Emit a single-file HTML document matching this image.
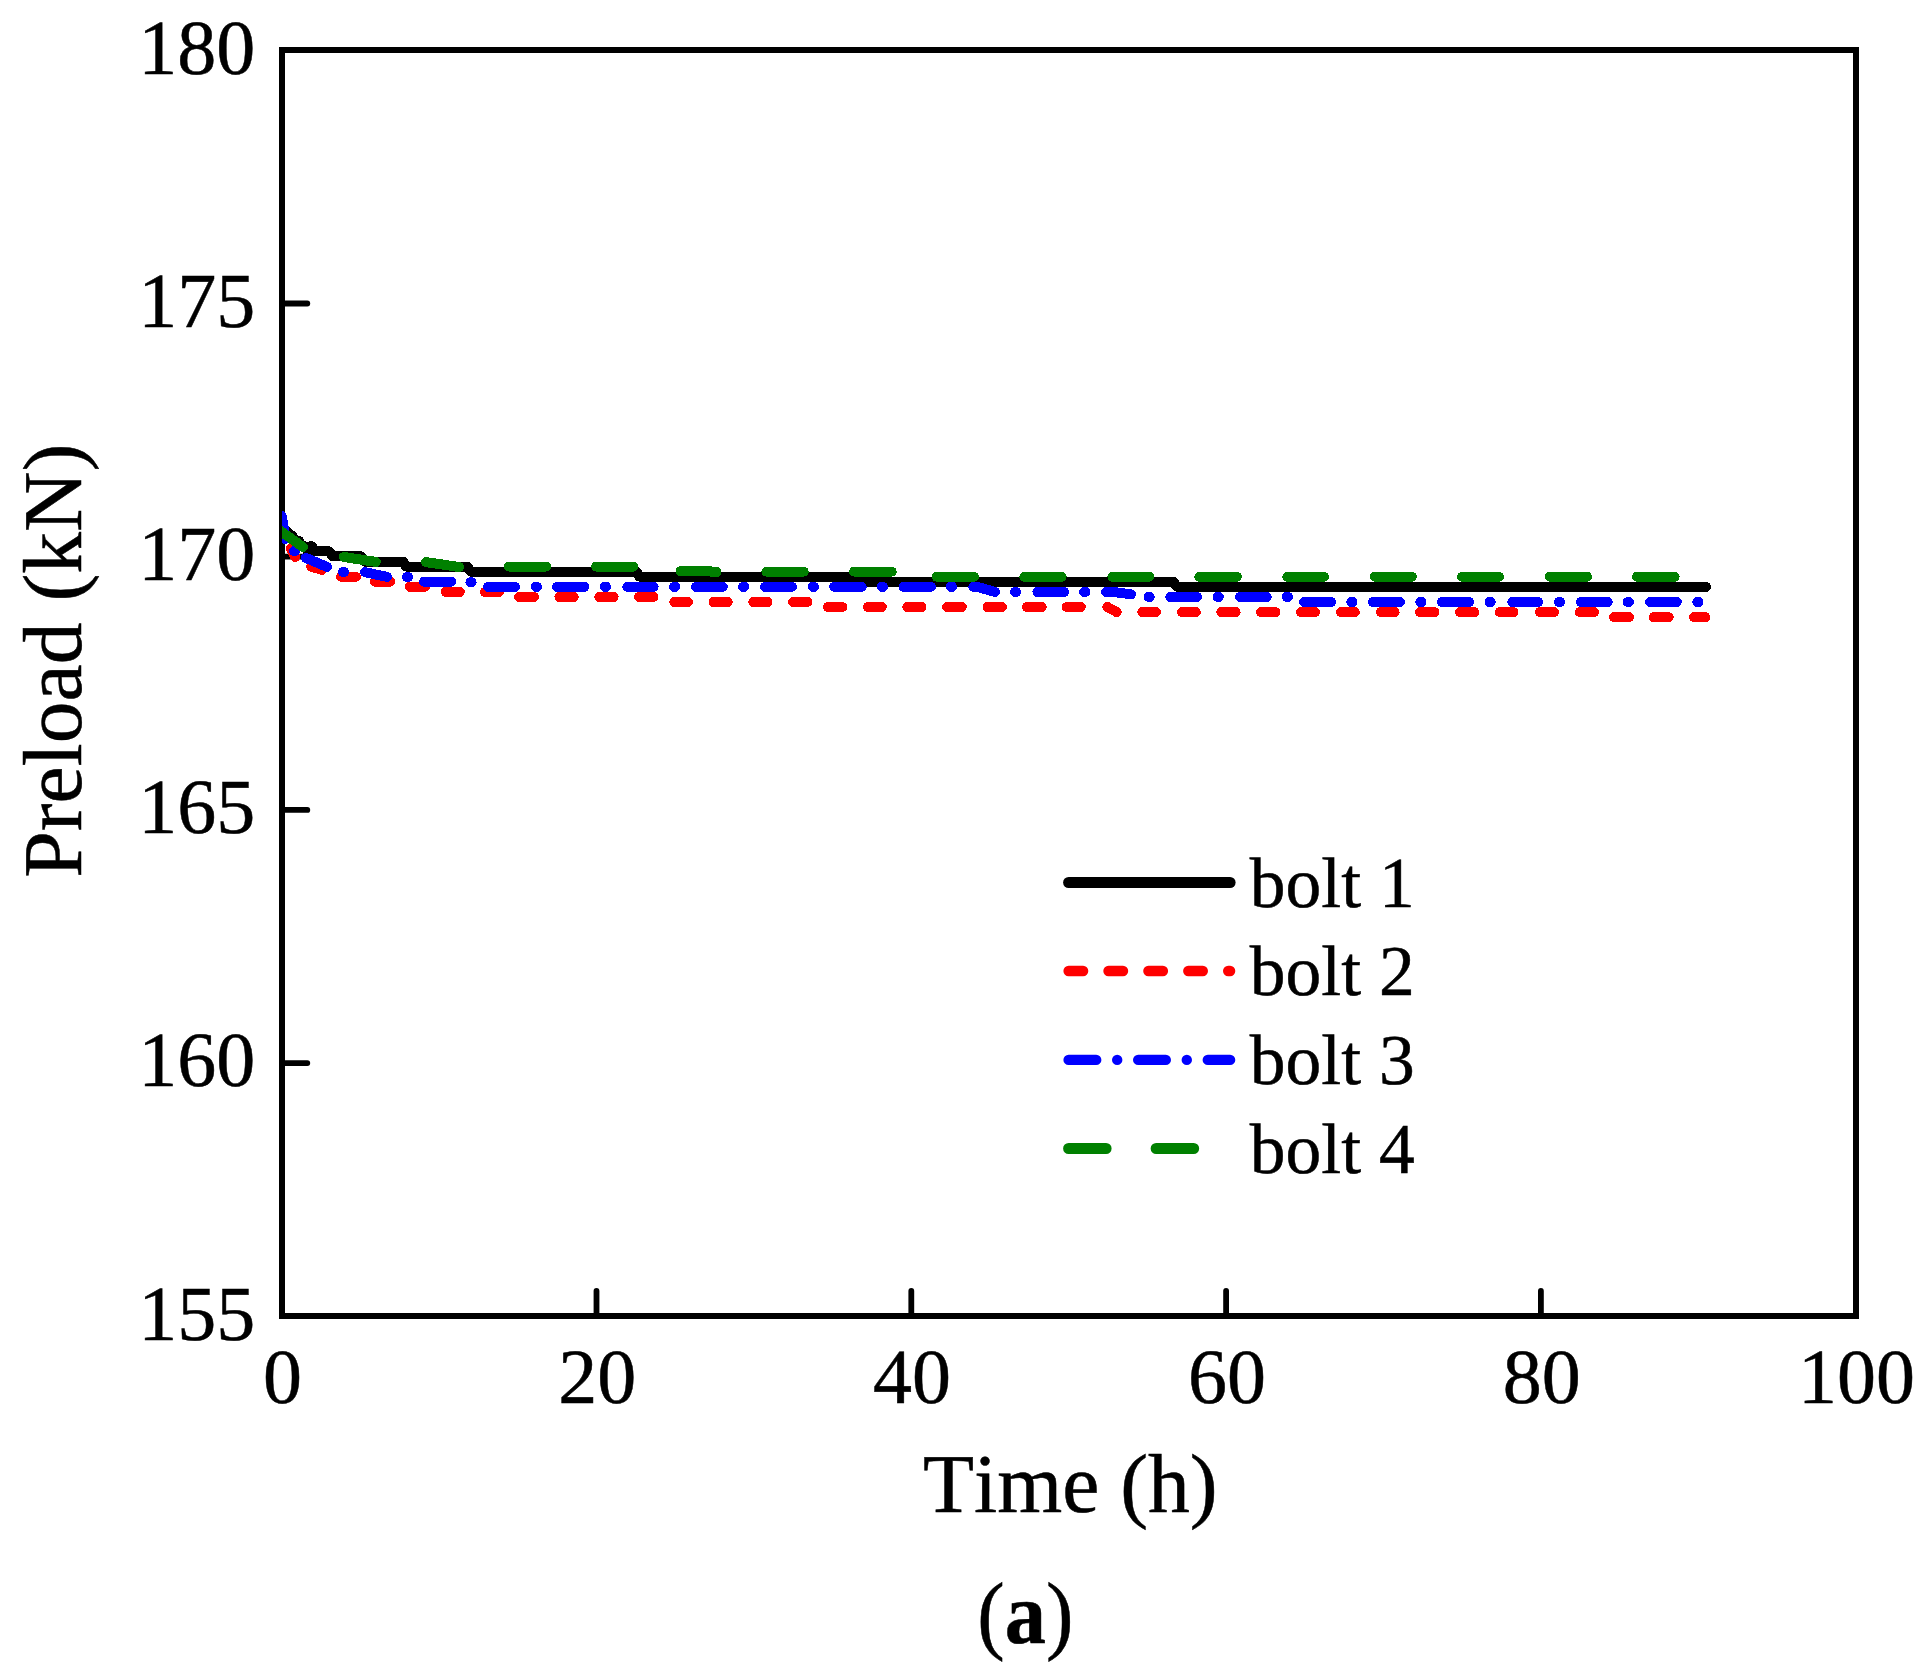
<!DOCTYPE html>
<html><head><meta charset="utf-8"><title>Preload vs Time (a)</title>
<style>
html,body{margin:0;padding:0;background:#fff;}
body{width:1928px;height:1677px;overflow:hidden;}
svg{display:block;}
text{font-family:"Liberation Serif","Times New Roman",Times,serif;fill:#000;stroke:#000;stroke-width:0.5px;font-kerning:none;text-rendering:geometricPrecision;}
.tk{font-size:78px;}
.ax{font-size:83.6px;}
.lg{font-size:71.5px;}
.cap{font-size:87.5px;}
</style></head><body>
<svg width="1928" height="1677" viewBox="0 0 1928 1677">
<rect x="0" y="0" width="1928" height="1677" fill="#fff"/>
<defs><clipPath id="plot"><rect x="282" y="0" width="1600" height="1400"/></clipPath></defs>

<g stroke="#000" stroke-width="6" fill="none" shape-rendering="crispEdges">
<rect x="282" y="50" width="1574" height="1266"/>
</g>
<g stroke="#000" stroke-width="5.8" stroke-linecap="round" fill="none">
<line x1="596.5" y1="1316" x2="596.5" y2="1291"/>
<line x1="911.3" y1="1316" x2="911.3" y2="1291"/>
<line x1="1226.1" y1="1316" x2="1226.1" y2="1291"/>
<line x1="1540.9" y1="1316" x2="1540.9" y2="1291"/>
<line x1="282" y1="1063.1" x2="307.3" y2="1063.1"/>
<line x1="282" y1="809.9" x2="307.3" y2="809.9"/>
<line x1="282" y1="556.7" x2="307.3" y2="556.7"/>
<line x1="282" y1="303.5" x2="307.3" y2="303.5"/>
</g>
<text class="tk" x="255.3" y="1339.5" text-anchor="end">155</text>
<text class="tk" x="255.3" y="1086.3" text-anchor="end">160</text>
<text class="tk" x="255.3" y="833.1" text-anchor="end">165</text>
<text class="tk" x="255.3" y="579.9" text-anchor="end">170</text>
<text class="tk" x="255.3" y="326.7" text-anchor="end">175</text>
<text class="tk" x="255.3" y="73.5" text-anchor="end">180</text>
<text class="tk" x="282.5" y="1403.3" text-anchor="middle">0</text>
<text class="tk" x="597.3" y="1403.3" text-anchor="middle">20</text>
<text class="tk" x="912.1" y="1403.3" text-anchor="middle">40</text>
<text class="tk" x="1226.9" y="1403.3" text-anchor="middle">60</text>
<text class="tk" x="1541.7" y="1403.3" text-anchor="middle">80</text>
<text class="tk" x="1856.5" y="1403.3" text-anchor="middle">100</text>
<text class="ax" x="1070.3" y="1512" text-anchor="middle">Time (h)</text>
<text class="ax" transform="translate(80.9,660.8) rotate(-90)" text-anchor="middle">Preload (kN)</text>
<text class="cap" transform="translate(1025.3,1642.7) scale(0.942,1)" text-anchor="middle">(<tspan font-weight="bold">a</tspan>)</text>
<g clip-path="url(#plot)" fill="none" stroke-width="10" stroke-linecap="round" stroke-linejoin="round" shape-rendering="crispEdges">
<path d="M281.0 524.5L285.5 530.5L288.5 533.5L292.5 536.0L294.5 539.5L299.0 541.0L301.0 546.3L305.0 546.3L307.5 551.3L310.0 546.3L312.0 546.3L314.8 551.3L329.3 551.3L332.3 556.4L361.5 556.4L364.5 561.5L403.2 561.5L406.0 566.5L467.6 566.5L470.8 571.6L636.5 571.6L639.5 576.7L865.0 576.7L868.0 581.7L1173.5 581.7L1177.0 586.8L1706.0 586.8" stroke="#000"/>
<path d="M290.7 548.7L295.2 557.0M311.1 566.5L322.0 570.0M341.0 576.7L355.9 576.7M374.9 581.7L390.1 581.7M409.9 586.8L424.9 586.8M445.8 591.9L459.8 591.9M484.9 591.9L499.0 591.9M519.2 596.9L533.9 596.9M559.4 596.9L573.7 596.9M599.3 596.9L613.6 596.9M639.1 596.9L653.5 596.9M674.3 602.0L687.9 602.0M713.5 602.0L727.7 602.0M753.3 602.0L767.6 602.0M793.1 602.0L807.4 602.0M828.0 607.0L842.3 607.0M867.9 607.0L881.8 607.0M907.3 607.0L921.6 607.0M947.2 607.0L961.8 607.0M987.6 607.0L1001.9 607.0M1026.8 607.0L1041.7 607.0M1066.7 607.0L1080.8 607.0M1107.4 607.0L1116.7 612.1M1142.3 612.1L1155.9 612.1M1182.1 612.1L1195.8 612.1M1221.3 612.1L1235.6 612.1M1261.1 612.1L1275.4 612.1M1301.0 612.1L1315.0 612.1M1341.1 612.1L1354.8 612.1M1380.9 612.1L1394.6 612.1M1420.1 612.1L1434.4 612.1M1460.0 612.1L1474.3 612.1M1499.8 612.1L1513.5 612.1M1539.9 612.1L1554.0 612.1M1579.8 612.1L1594.0 612.1M1614.0 617.2L1628.9 617.2M1653.8 617.2L1668.7 617.2M1693.9 617.2L1705.2 617.2" stroke="#f00"/>
<path d="M281.8 516.0L283.6 527.0L285.0 539.0M293.9 551.2L295.1 551.2M305.8 557.9L327.0 566.9M342.9 571.9L344.1 571.9M365.0 572.2L387.0 576.9M407.0 577.0L408.2 577.0M424.0 581.7L451.1 581.7M470.4 582.3L471.6 582.3M488.0 586.8L515.0 586.8M535.8 586.8L537.0 586.8M557.0 586.8L584.3 586.8M604.9 586.8L606.1 586.8M627.3 586.8L653.6 586.8M674.0 586.8L675.2 586.8M696.0 586.8L722.8 586.8M743.0 586.8L744.2 586.8M765.1 586.8L791.9 586.8M812.8 586.8L814.0 586.8M834.2 586.8L861.7 586.8M881.8 586.8L883.0 586.8M903.6 586.8L930.9 586.8M950.9 586.8L952.1 586.8M973.3 586.8L977.0 586.8L995.0 591.9M1015.0 591.9L1016.2 591.9M1037.4 591.9L1064.1 591.9M1084.2 591.9L1085.4 591.9M1106.2 591.9L1113.0 591.9L1131.0 594.3M1148.5 596.9L1149.7 596.9M1170.3 596.9L1197.0 596.9M1217.6 596.9L1218.8 596.9M1240.0 596.9L1266.7 596.9M1286.7 596.9L1287.9 596.9M1304.1 602.0L1331.1 602.0M1351.4 602.0L1352.6 602.0M1372.8 602.0L1399.9 602.0M1420.4 602.0L1421.6 602.0M1441.9 602.0L1469.0 602.0M1489.5 602.0L1490.7 602.0M1512.3 602.0L1538.0 602.0M1559.0 602.0L1560.2 602.0M1581.0 602.0L1607.7 602.0M1627.7 602.0L1628.9 602.0M1650.1 602.0L1676.8 602.0M1697.4 602.0L1698.6 602.0" stroke="#00f"/>
<path d="M276.0 527.8L303.0 547.0M343.8 557.0L375.8 561.9M425.9 562.1L459.1 567.0M509.0 566.5L546.3 566.5M596.2 566.5L633.5 566.5M680.5 571.2L710.0 571.2L712.0 572.0L716.5 572.0M766.4 571.6L803.7 571.6M854.1 571.6L891.7 571.6M936.6 576.7L973.9 576.7M1024.3 576.7L1061.6 576.7M1112.4 576.7L1149.1 576.7M1199.3 576.7L1236.8 576.7M1287.3 576.7L1323.9 576.7M1374.7 576.7L1411.8 576.7M1462.1 576.7L1498.9 576.7M1549.9 576.7L1587.0 576.7M1637.0 576.7L1674.6 576.7" stroke="#008000"/>
</g>
<g fill="none" stroke-width="10.4" stroke-linecap="round">
<line x1="1068.6" y1="882.5" x2="1230.1" y2="882.5" stroke="#000" stroke-width="11"/>
<line x1="1068.6" y1="971" x2="1230.1" y2="971" stroke="#f00" stroke-dasharray="14.5 25.4"/>
<line x1="1068.6" y1="1059.9" x2="1230.1" y2="1059.9" stroke="#00f" stroke-dasharray="27.6 21 0 21"/>
<line x1="1068.6" y1="1148.5" x2="1230.1" y2="1148.5" stroke="#008000" stroke-width="11" stroke-dasharray="37.5 50.05"/>
</g>
<text class="lg" x="1249.8" y="906.8">bolt 1</text>
<text class="lg" x="1249.8" y="995.3">bolt 2</text>
<text class="lg" x="1249.8" y="1084">bolt 3</text>
<text class="lg" x="1249.8" y="1172.9">bolt 4</text>
</svg></body></html>
